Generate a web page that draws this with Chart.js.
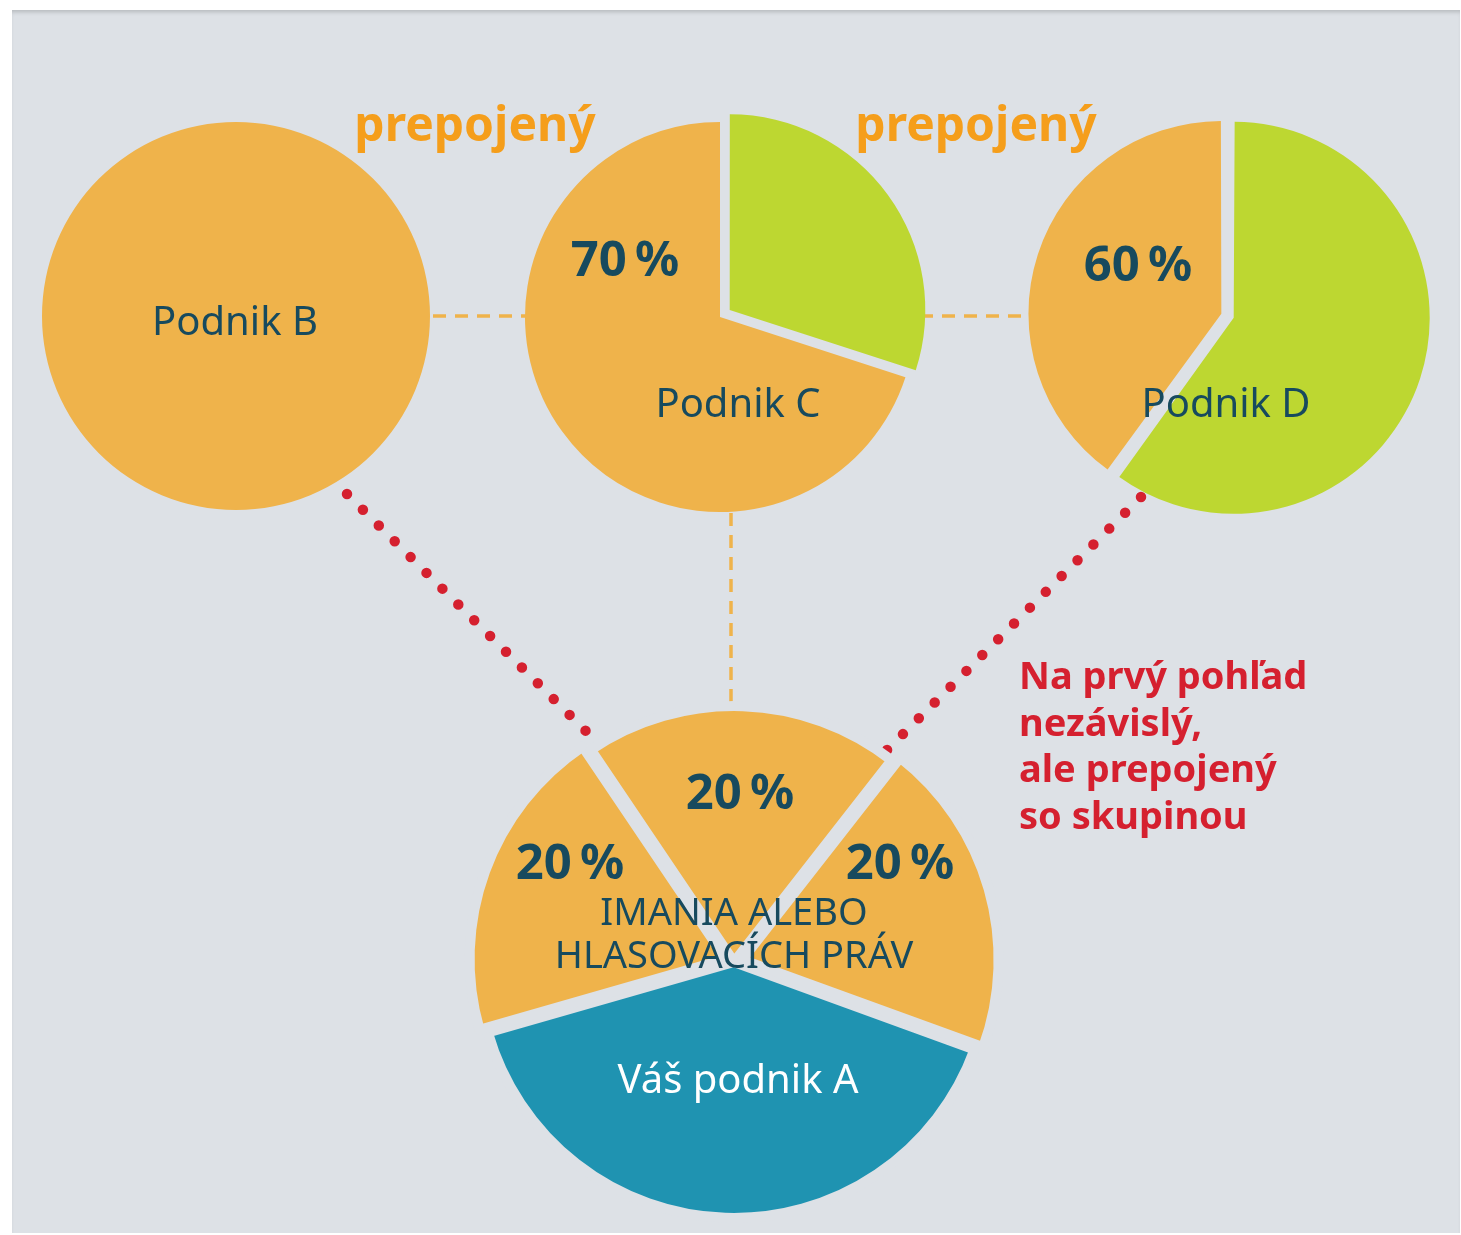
<!DOCTYPE html>
<html>
<head>
<meta charset="utf-8">
<script src="https://cdn.jsdelivr.net/npm/chart.js@4/dist/chart.umd.min.js"></script>
<style>
  body { margin: 0; background: #fff; font-family: 'Noto Sans', sans-serif; }
  #page { position: relative; width: 1461px; height: 1235px; overflow: hidden; }
  #panel { position: absolute; left: 12px; top: 10px; width: 1448px; height: 1223px;
           background: #dde1e6; box-shadow: inset 0 4px 4px -2px rgba(0,0,0,0.18); }
  canvas { position: absolute; }
  svg { position: absolute; left: 0; top: 0; }
  .lbl { position: absolute; transform: translate(-50%, -50%); white-space: nowrap; color: #174a5e; }
  .name { font-size: 40px; }
  .pct { font-size: 49px; font-weight: 700; }
  .link { font-size: 48px; font-weight: 700; color: #f59e1b; }
  .caps { font-size: 38px; line-height: 43px; text-align: center; }
  #note { position: absolute; left: 1019px; top: 651px; font-size: 38px; line-height: 46.5px;
          font-weight: 700; color: #d5202f; white-space: nowrap; }
</style>
</head>
<body>
<div id="page">
  <div id="panel"></div>
  <svg width="1461" height="1235">
    <g stroke="#efb34b" stroke-width="3.5" stroke-dasharray="13 9" fill="none">
      <line x1="433" y1="316" x2="526" y2="316"/>
      <line x1="920" y1="316" x2="1030" y2="316"/>
      <line x1="731" y1="513" x2="731" y2="712"/>
    </g>
    <g stroke="#d5202f" stroke-width="10.5" stroke-linecap="round" stroke-dasharray="0 22.4" fill="none">
      <line x1="347" y1="494" x2="603" y2="748"/>
      <line x1="1141" y1="497" x2="886" y2="751"/>
    </g>
  </svg>
  <canvas id="pieB"></canvas>
  <canvas id="pieC"></canvas>
  <canvas id="pieD"></canvas>
  <canvas id="pieA"></canvas>
  <div id="labels"></div>
  <div id="note"></div>
</div>
<script>
'use strict'
// data of the four companies (shares in %)
const pieNames = ['Podnik B', 'Podnik C', 'Podnik D', 'Váš podnik A'];
const sharesB = [100];
const sharesC = [30, 70];          // green part, orange part
const sharesD = [60, 40];          // green part, orange part
const sharesA = [40, 20, 20, 20];  // own (blue), then B, C, D
const pctC = '70\u2009%';
const pctD = '60\u2009%';
const pctA = ['20\u2009%', '20\u2009%', '20\u2009%'];
const linkText = 'prepojený';
const capsLines = ['IMANIA ALEBO', 'HLASOVACÍCH PRÁV'];
const noteLines = ['Na prvý pohľad', 'nezávislý,', 'ale prepojený', 'so skupinou'];

const orange = '#efb34b';
const green = '#bdd731';
const blue = '#1f93b1';
const bg = '#dde1e6';

// one chart for each pie, canvas centered on (cx, cy)
function makePie(id, cx, cy, r, data, colors, extra) {
    let size = Math.round(2 * r + 80);
    let cv = document.getElementById(id);
    cv.width = size;
    cv.height = size;
    cv.style.left = (cx - size / 2) + 'px';
    cv.style.top = (cy - size / 2) + 'px';
    return new Chart(cv, {
        type: 'pie',
        data: {
            labels: data.map((v, i) => id + '_' + i),
            datasets: [Object.assign({
                data: data,
                backgroundColor: colors,
                borderWidth: 0
            }, extra.ds || {})]
        },
        options: {
            responsive: false,
            animation: false,
            events: [],
            radius: r,
            rotation: extra.rotation || 0,
            layout: { padding: 0 },
            plugins: { legend: { display: false }, tooltip: { enabled: false } }
        }
    });
}

makePie('pieB', 236, 316, 194, sharesB, [orange], {});
makePie('pieC', 720, 317, 195, sharesC, [green, orange], { ds: { offset: [48, 0] } });
makePie('pieD', 1228, 316, 190, sharesD, [green, orange], { ds: { offset: [24, 28] } });
makePie('pieA', 734, 962, 256, sharesA, [blue, orange, orange, orange],
    { rotation: 110, ds: { borderWidth: 10, borderColor: bg, borderJoinStyle: 'round', offset: [0, 34, 0, 34] } });

// texts
let labels = document.getElementById('labels');
function addLabel(text, x, y, cls, color) {
    let d = document.createElement('div');
    d.className = 'lbl ' + cls;
    d.style.left = x + 'px';
    d.style.top = y + 'px';
    d.innerHTML = text;
    if (color) d.style.color = color;
    labels.appendChild(d);
}
addLabel(linkText, 475, 122, 'link');
addLabel(linkText, 976, 122, 'link');
addLabel(pieNames[0], 235, 319, 'name');
addLabel(pctC, 625, 257, 'pct');
addLabel(pieNames[1], 738, 401, 'name');
addLabel(pctD, 1138, 262, 'pct');
addLabel(pieNames[2], 1226, 401, 'name');
addLabel(pctA[1], 740, 790, 'pct');
addLabel(pctA[0], 570, 860, 'pct');
addLabel(pctA[2], 900, 860, 'pct');
addLabel(capsLines.join('<br>'), 734, 932, 'caps');
addLabel(pieNames[3], 738, 1077, 'name', '#ffffff');

document.getElementById('note').innerHTML = noteLines.join('<br>');
</script>
</body>
</html>
